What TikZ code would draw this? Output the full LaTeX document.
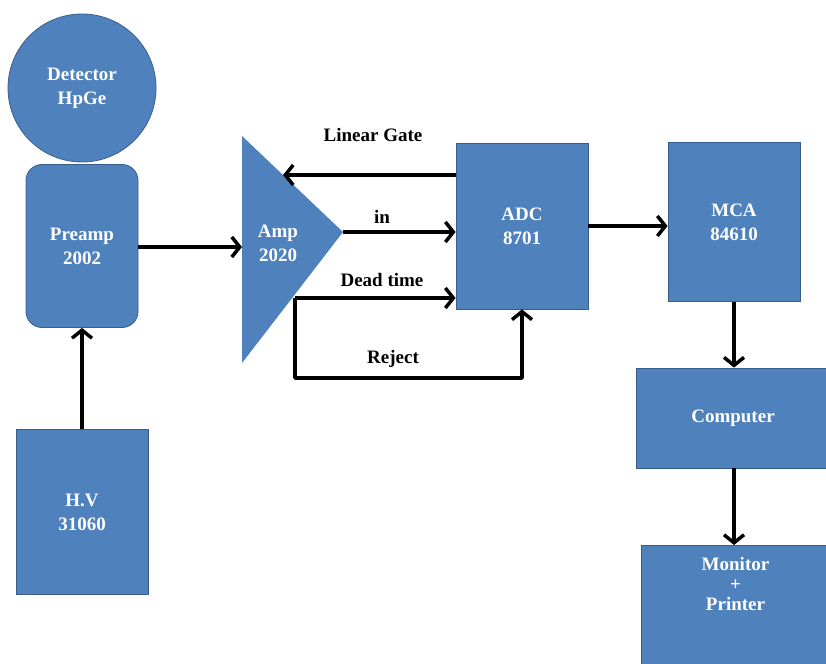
\documentclass[tikz,border=0pt]{standalone}
\usepackage{fontspec}
\setmainfont{Liberation Serif}
\usetikzlibrary{arrows.meta}
\definecolor{blkfill}{RGB}{79,129,189}
\definecolor{blkedge}{RGB}{56,93,138}
\tikzset{
	blk/.style={draw=blkedge, fill=blkfill, line width=0.8pt, text=white,
		font=\fontsize{19}{24}\selectfont\bfseries, align=center, inner sep=0pt},
	sig/.style={-{Straight Barb[length=8pt,width=20pt]}, line width=3.5pt, line join=round},
	lbl/.style={font=\fontsize{19}{24}\selectfont\bfseries}
}

\begin{document}
\begin{tikzpicture}[x=1pt, y=-1pt]
	\useasboundingbox (0,0) rectangle (826,663);

	% --- Left: detector, preamp, high voltage ---
	\node[blk, circle, minimum size=148pt] (det) at (82,88) {Detector\\HpGe};
	\node[blk, rounded corners=16pt, minimum width=112pt, minimum height=163pt] (pre) at (82,246) {Preamp\\2002};
	\node[blk, minimum width=132pt, minimum height=165pt] (hv) at (82,512) {H.V\\31060};

	% --- Amplifier (triangle) ---
	\coordinate (amptop) at (242,136);
	\coordinate (ampbot) at (242,363);
	\coordinate (amptip) at (343,232);
	\fill[blkfill] (amptop) -- (amptip) -- (ampbot) -- cycle;
	\node[blk, draw=none, fill=none] (amp) at (278,243) {Amp\\2020};

	\coordinate (ampin)   at (242,247);
	\coordinate (ampgate) at (283,175);
	\coordinate (ampdead) at (295,298);
	\coordinate (rejbot)  at (295,378);

	% --- Right: ADC, MCA, computer, output ---
	\node[blk, minimum width=132pt, minimum height=166pt] (adc) at (522,226) {ADC\\8701};
	\node[blk, minimum width=132pt, minimum height=159pt] (mca) at (734,222) {MCA\\84610};
	\node[blk, minimum width=194pt, minimum height=100pt] (comp) at (733,418) {Computer};
	\node[blk, anchor=north, minimum width=189pt, inner ysep=12pt, text depth=45pt,
		font=\fontsize{19}{20}\selectfont\bfseries] (mon) at (735.5,545) {Monitor\\+\\Printer};

	% --- Signal labels ---
	\node[lbl] (lgate) at (373,135) {Linear Gate};
	\node[lbl] (lin)   at (382,217) {in};
	\node[lbl] (ldead) at (382,280) {Dead time};
	\node[lbl] (lrej)  at (393,359) {Reject};

	% --- Connections ---
	\draw[sig] (hv.north) -- (pre.south);
	\draw[sig] (pre.east |- ampin) -- (ampin);
	\draw[sig] (adc.west |- ampgate) -- (ampgate);
	\draw[sig] (amptip) -- (amptip -| adc.west);
	\draw[sig] (ampdead) -- (ampdead -| adc.west);
	\draw[sig] (ampdead) -- (rejbot) -| (adc.south);
	\draw[sig] (adc.east) -- (adc.east -| mca.west);
	\draw[sig] (mca.south) -- (mca.south |- comp.north);
	\draw[sig] (mca.south |- comp.south) -- (mca.south |- mon.north);
\end{tikzpicture}
\end{document}
